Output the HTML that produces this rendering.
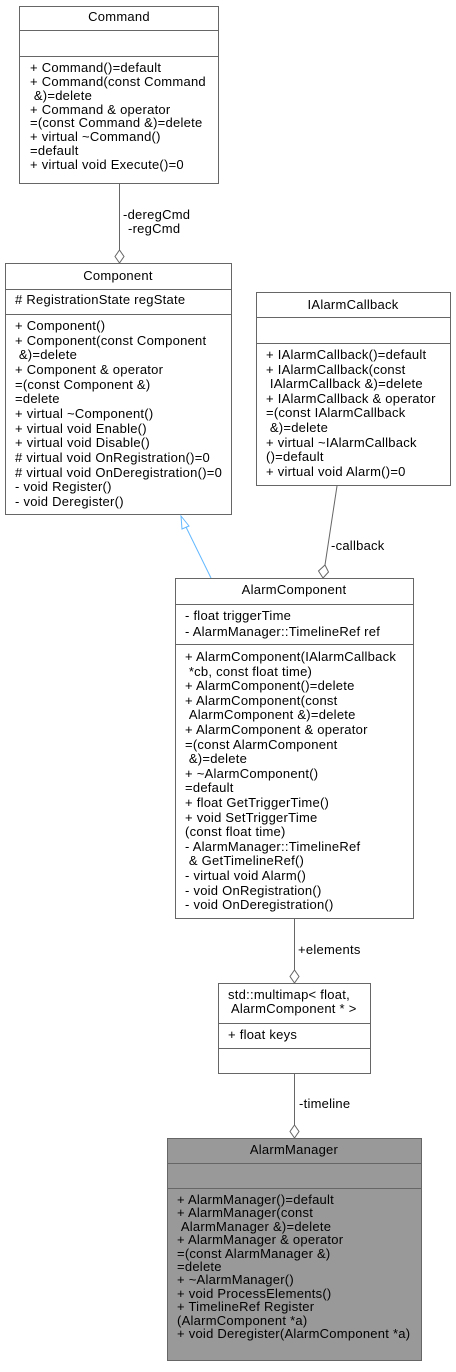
<!DOCTYPE html>
<html><head><meta charset="utf-8"><style>
html,body{margin:0;padding:0;background:#fff;}
svg text{font-family:"Liberation Sans",sans-serif;font-size:13px;letter-spacing:0.25px;fill:#000;}
</style></head><body>
<svg width="456" height="1367" viewBox="0 0 456 1367" xmlns="http://www.w3.org/2000/svg">
<g stroke="#666" stroke-width="1" fill="#fff">
<rect x="19.5" y="6.5" width="199" height="177"/>
<line x1="19.5" y1="30.5" x2="218.5" y2="30.5"/>
<line x1="19.5" y1="56.5" x2="218.5" y2="56.5"/>
<rect x="5.5" y="263.5" width="226" height="251"/>
<line x1="5.5" y1="289.5" x2="231.5" y2="289.5"/>
<line x1="5.5" y1="314.5" x2="231.5" y2="314.5"/>
<rect x="256.5" y="292.5" width="194" height="193"/>
<line x1="256.5" y1="317.5" x2="450.5" y2="317.5"/>
<line x1="256.5" y1="343.5" x2="450.5" y2="343.5"/>
<rect x="175.5" y="578.5" width="238" height="340"/>
<line x1="175.5" y1="604.5" x2="413.5" y2="604.5"/>
<line x1="175.5" y1="644.5" x2="413.5" y2="644.5"/>
<rect x="218.5" y="983.5" width="152" height="90"/>
<line x1="218.5" y1="1023.5" x2="370.5" y2="1023.5"/>
<line x1="218.5" y1="1048.5" x2="370.5" y2="1048.5"/>
<rect x="167.5" y="1138.5" width="254" height="222" fill="#999"/>
<line x1="167.5" y1="1163.5" x2="421.5" y2="1163.5"/>
<line x1="167.5" y1="1188.5" x2="421.5" y2="1188.5"/>
<line x1="119.5" y1="184" x2="119.5" y2="250"/>
<polygon points="119.5,263 115,256.5 119.5,250 124,256.5"/>
<line x1="294.5" y1="919" x2="294.5" y2="970"/>
<polygon points="294.5,983 290,976.5 294.5,970 299,976.5"/>
<line x1="294.5" y1="1074" x2="294.5" y2="1125"/>
<polygon points="294.5,1138 290,1131.5 294.5,1125 299,1131.5"/>
<line x1="337" y1="486" x2="325" y2="565"/>
<polygon points="323,578 318.5,571 325,565 328.5,572"/>
</g>
<line x1="211" y1="578" x2="186" y2="527" stroke="#63b8ff" stroke-width="1"/>
<polygon points="181,516 189,526 182,529" fill="#fff" stroke="#63b8ff" stroke-width="1"/>
<text x="119" y="21" text-anchor="middle">Command</text>
<text x="30" y="72">+ Command()=default</text>
<text x="30" y="86">+ Command(const Command</text>
<text x="30" y="100">&#160;&amp;)=delete</text>
<text x="30" y="114">+ Command &amp; operator</text>
<text x="30" y="127">=(const Command &amp;)=delete</text>
<text x="30" y="141">+ virtual ~Command()</text>
<text x="30" y="155">=default</text>
<text x="30" y="169">+ virtual void Execute()=0</text>
<text x="123" y="219">-deregCmd</text>
<text x="128" y="233">-regCmd</text>
<text x="118" y="280" text-anchor="middle">Component</text>
<text x="15" y="304"># RegistrationState regState</text>
<text x="15" y="330">+ Component()</text>
<text x="15" y="345">+ Component(const Component</text>
<text x="15" y="359">&#160;&amp;)=delete</text>
<text x="15" y="374">+ Component &amp; operator</text>
<text x="15" y="389">=(const Component &amp;)</text>
<text x="15" y="403">=delete</text>
<text x="15" y="418">+ virtual ~Component()</text>
<text x="15" y="433">+ virtual void Enable()</text>
<text x="15" y="447">+ virtual void Disable()</text>
<text x="15" y="462"># virtual void OnRegistration()=0</text>
<text x="15" y="477"># virtual void OnDeregistration()=0</text>
<text x="15" y="491">- void Register()</text>
<text x="15" y="506">- void Deregister()</text>
<text x="353" y="309" text-anchor="middle">IAlarmCallback</text>
<text x="266" y="359">+ IAlarmCallback()=default</text>
<text x="266" y="374">+ IAlarmCallback(const</text>
<text x="266" y="388">&#160;IAlarmCallback &amp;)=delete</text>
<text x="266" y="403">+ IAlarmCallback &amp; operator</text>
<text x="266" y="417">=(const IAlarmCallback</text>
<text x="266" y="432">&#160;&amp;)=delete</text>
<text x="266" y="447">+ virtual ~IAlarmCallback</text>
<text x="266" y="461">()=default</text>
<text x="266" y="476">+ virtual void Alarm()=0</text>
<text x="331" y="550">-callback</text>
<text x="294" y="594" text-anchor="middle">AlarmComponent</text>
<text x="185" y="620">- float triggerTime</text>
<text x="185" y="636">- AlarmManager::TimelineRef ref</text>
<text x="185" y="661">+ AlarmComponent(IAlarmCallback</text>
<text x="185" y="676">&#160;*cb, const float time)</text>
<text x="185" y="690">+ AlarmComponent()=delete</text>
<text x="185" y="705">+ AlarmComponent(const</text>
<text x="185" y="719">&#160;AlarmComponent &amp;)=delete</text>
<text x="185" y="734">+ AlarmComponent &amp; operator</text>
<text x="185" y="749">=(const AlarmComponent</text>
<text x="185" y="763">&#160;&amp;)=delete</text>
<text x="185" y="778">+ ~AlarmComponent()</text>
<text x="185" y="792">=default</text>
<text x="185" y="807">+ float GetTriggerTime()</text>
<text x="185" y="822">+ void SetTriggerTime</text>
<text x="185" y="836">(const float time)</text>
<text x="185" y="851">- AlarmManager::TimelineRef</text>
<text x="185" y="865">&#160;&amp; GetTimelineRef()</text>
<text x="185" y="880">- virtual void Alarm()</text>
<text x="185" y="895">- void OnRegistration()</text>
<text x="185" y="909">- void OnDeregistration()</text>
<text x="298" y="954">+elements</text>
<text x="228" y="999">std::multimap&lt; float,</text>
<text x="231" y="1013">AlarmComponent * &gt;</text>
<text x="228" y="1039">+ float keys</text>
<text x="299" y="1108">-timeline</text>
<text x="294" y="1154" text-anchor="middle">AlarmManager</text>
<text x="177" y="1204">+ AlarmManager()=default</text>
<text x="177" y="1217">+ AlarmManager(const</text>
<text x="177" y="1231">&#160;AlarmManager &amp;)=delete</text>
<text x="177" y="1244">+ AlarmManager &amp; operator</text>
<text x="177" y="1258">=(const AlarmManager &amp;)</text>
<text x="177" y="1271">=delete</text>
<text x="177" y="1284">+ ~AlarmManager()</text>
<text x="177" y="1298">+ void ProcessElements()</text>
<text x="177" y="1311">+ TimelineRef Register</text>
<text x="177" y="1325">(AlarmComponent *a)</text>
<text x="177" y="1338">+ void Deregister(AlarmComponent *a)</text>
</svg>
</body></html>
